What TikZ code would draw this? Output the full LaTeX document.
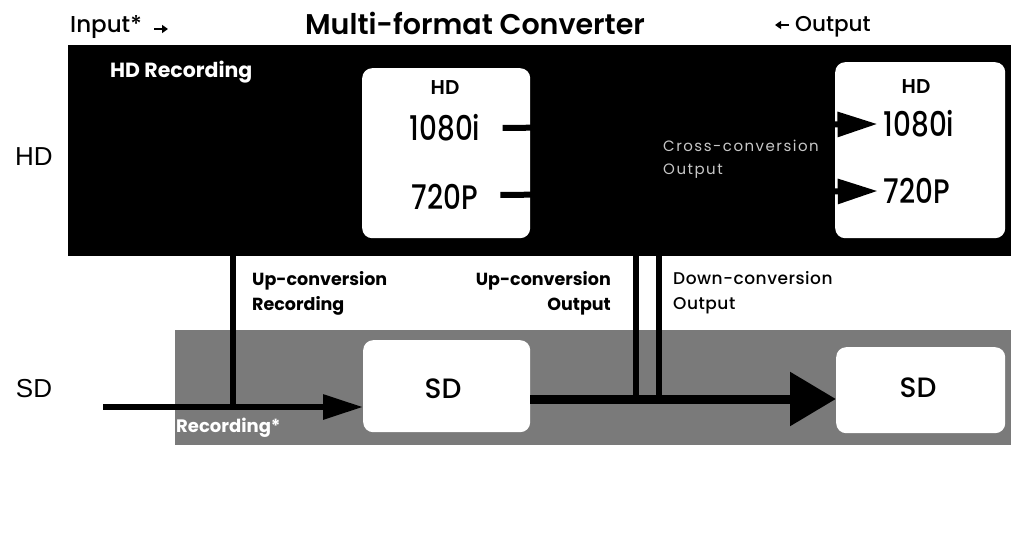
\documentclass[tikz,border=0pt]{standalone}
\usepackage{fontspec}
\setmainfont{Poppins}
\newfontfamily\popm{Poppins Medium}
\newfontfamily\popsb{Poppins SemiBold}
\newfontfamily\popb{Poppins Bold}
\newfontfamily\popnum{Poppins Medium}[FakeStretch=0.82]
\newfontfamily\popsp{Poppins}[LetterSpace=10]
\newfontfamily\popmsp{Poppins Medium}[LetterSpace=3]
\newfontfamily\arl{Liberation Sans}
\usetikzlibrary{arrows.meta}
\begin{document}
\begin{tikzpicture}[x=1pt,y=-1pt,
  band/.style={fill=black,draw=none,inner sep=0pt,anchor=north west},
  sdband/.style={fill=black!52,draw=none,inner sep=0pt,anchor=north west},
  fmtbox/.style={fill=white,draw=none,rounded corners=10pt,inner sep=0pt,anchor=north west},
  flow/.style={line width=6pt,black},
  arr/.style={flow,-{Triangle[length=40pt,width=24pt]}},
  bigarr/.style={line width=9pt,black,-{Triangle[length=46pt,width=52pt]}},
  lbl/.style={inner sep=0pt},
  fmt/.style={lbl,font=\popnum\fontsize{34}{34}\selectfont},
  hdhead/.style={lbl,font=\popsb\fontsize{20}{20}\selectfont},
  strip/.style={lbl,font=\popb\fontsize{17.5}{25}\selectfont},
  side/.style={lbl,font=\arl\fontsize{26}{26}\selectfont},
  sdlbl/.style={lbl,font=\popm\fontsize{28}{28}\selectfont},
  legendarrow/.style={line width=2.5pt,-{Triangle[length=6pt,width=8pt]}}
]
\useasboundingbox (0,0) rectangle (1016,540);
\fill[white] (0,0) rectangle (1016,540);

% title row
\node[lbl,font=\popsb\fontsize{28.5}{28}\selectfont] (title) at (475,23) {Multi-format Converter};
\node[lbl,anchor=base west,font=\popm\fontsize{23}{23}\selectfont] (input) at (70,33) {Input*};
\node[lbl,anchor=base west,font=\popm\fontsize{21.5}{22}\selectfont] (output) at (795,32) {Output};
\coordinate (inA) at (154,29);
\coordinate (inB) at (168,29);
\coordinate (outA) at (789,25);
\coordinate (outB) at (775,25);
\draw[legendarrow] (inA) -- (inB);
\draw[legendarrow] (outA) -- (outB);

% bands
\node[band,minimum width=943pt,minimum height=211pt] (hdband) at (68,45) {};
\node[sdband,minimum width=836pt,minimum height=115pt] (sdband) at (175,330) {};

% side labels
\node[side] (hdside) at (34,157) {HD};
\node[side] (sdside) at (34,389) {SD};

\node[lbl,anchor=base west,text=white,font=\popb\fontsize{20.5}{20}\selectfont] (hdrec) at (110,78) {HD Recording};

% HD format boxes
\node[fmtbox,minimum width=168pt,minimum height=170pt] (lbox) at (362,68) {};
\node[fmtbox,minimum width=170pt,minimum height=176pt] (rbox) at (835,62) {};
\node[hdhead] (lhd) at (445,88) {HD};
\node[fmt] (l1080) at (445,128) {1080i};
\node[fmt] (l720) at (445,197) {720P};
\node[hdhead] (rhd) at (916,87) {HD};
\node[fmt] (r1080) at (919,124) {1080i};
\node[fmt] (r720) at (917,191) {720P};

% SD boxes
\node[fmtbox,minimum width=167pt,minimum height=92pt] (lsd) at (363,340) {};
\node[fmtbox,minimum width=169pt,minimum height=86pt] (rsd) at (836,347) {};
\node[sdlbl] (lsdt) at (443,389) {SD};
\node[sdlbl] (rsdt) at (918,388) {SD};

% cross conversion label
\node[lbl,anchor=north west,align=left,text=black!22,font=\popsp\fontsize{15}{23}\selectfont] (cross) at (663,140) {Cross-conversion\\Output};

% strip labels
\node[strip,anchor=north west,align=left] (uprec) at (252,271) {Up-conversion\\Recording};
\node[strip,anchor=north east,align=right] (upout) at (611,271) {Up-conversion\\Output};
\node[lbl,anchor=north west,align=left,font=\popmsp\fontsize{17}{25}\selectfont] (downout) at (673,271) {Down-conversion\\Output};

\node[lbl,anchor=base west,text=white,font=\popb\fontsize{18}{18}\selectfont] (sdrec) at (176,432) {Recording*};

% connectors
\coordinate (sdin) at (103,407);
\coordinate (urtop) at (233,256);
\coordinate (uotop) at (636,256);
\coordinate (dotop) at (659,256);
\draw[arr] (sdin) -- (lsd.west |- sdin);
\draw[flow] (urtop) -- (urtop |- sdin);
\draw[bigarr] (lsd.east |- 0,399) -- (rsd.west |- 0,399);
\draw[flow] (uotop) -- (uotop |- 0,399);
\draw[flow] (dotop) -- (dotop |- 0,399);
\draw[arr] ([xshift=22pt]l1080.east) -- ([xshift=-6pt]r1080.west);
\draw[arr] ([xshift=22pt]l720.east |- 0,195) -- ([xshift=-6pt]r720.west |- 0,191);
\end{tikzpicture}
\end{document}
